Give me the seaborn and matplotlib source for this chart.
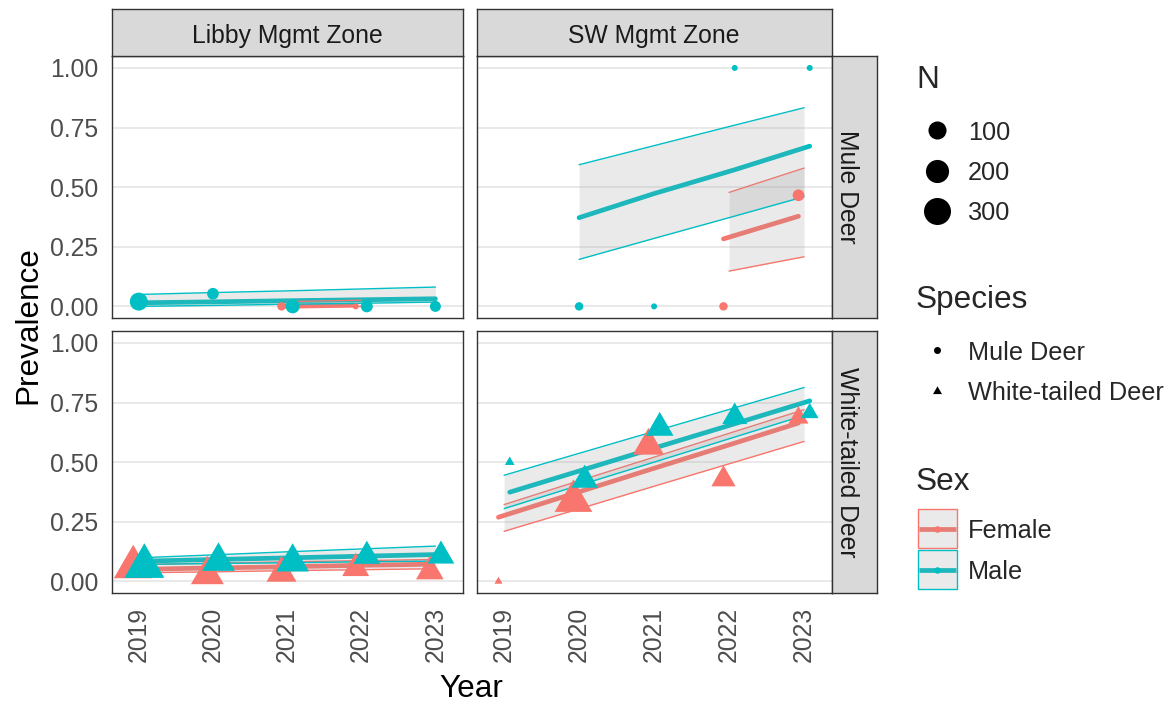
import numpy as np
import pandas as pd
import matplotlib
matplotlib.use("Agg")
import matplotlib.pyplot as plt
from matplotlib.path import Path
from matplotlib.patches import Rectangle
import seaborn as sns

# ---------------- observed prevalence (one row per zone/species/sex/year) ----------------
obs_zone = ["Libby"] * 7 + ["SW"] * 6 + ["Libby"] * 10 + ["SW"] * 10
obs_species = ["Mule Deer"] * 13 + ["White-tailed Deer"] * 20
obs_sex = (["Male"] * 5 + ["Female"] * 2 +
           ["Male"] * 4 + ["Female"] * 2 +
           ["Female", "Male"] * 5 +
           ["Female", "Male"] * 5)
obs_year = ([2019, 2020, 2021, 2022, 2023, 2021, 2022] +
            [2020, 2021, 2022, 2023, 2022, 2023] +
            [2019, 2019, 2020, 2020, 2021, 2021, 2022, 2022, 2023, 2023] +
            [2019, 2019, 2020, 2020, 2021, 2021, 2022, 2022, 2023, 2023])
obs_prev = ([0.020, 0.053, 0.000, 0.000, 0.000, 0.000, 0.000] +
            [0.000, 0.000, 1.000, 1.000, 0.000, 0.466] +
            [0.060, 0.063, 0.028, 0.084, 0.035, 0.081, 0.055, 0.106, 0.042, 0.107] +
            [0.000, 0.500, 0.337, 0.425, 0.569, 0.644, 0.428, 0.690, 0.686, 0.706])
obs_n = ([98, 23, 44, 25, 18, 5, 1] +
         [5, 1, 1, 1, 5, 23] +
         [350, 380, 230, 230, 180, 225, 134, 130, 143, 130] +
         [1, 2, 326, 130, 197, 143, 99, 107, 54, 35])

# ---------------- model fit with confidence band ----------------
fit_zone = ["Libby"] * 5 + ["Libby"] * 2 + ["SW"] * 4 + ["SW"] * 2 + ["Libby"] * 10 + ["SW"] * 10
fit_species = ["Mule Deer"] * 13 + ["White-tailed Deer"] * 20
fit_sex = (["Male"] * 5 + ["Female"] * 2 + ["Male"] * 4 + ["Female"] * 2 +
           ["Male"] * 5 + ["Female"] * 5 + ["Male"] * 5 + ["Female"] * 5)
fit_year = ([2019, 2020, 2021, 2022, 2023] + [2021, 2022] +
            [2020, 2021, 2022, 2023] + [2022, 2023] +
            [2019, 2020, 2021, 2022, 2023] * 4)
fit_mean = ([0.015, 0.019, 0.024, 0.028, 0.032] + [0.000, 0.005] +
            [0.372, 0.473, 0.573, 0.672] + [0.283, 0.378] +
            [0.085, 0.092, 0.099, 0.106, 0.113] + [0.050, 0.056, 0.061, 0.067, 0.072] +
            [0.374, 0.470, 0.566, 0.661, 0.757] + [0.269, 0.368, 0.467, 0.565, 0.664])
fit_lo = ([0.000, 0.004, 0.009, 0.013, 0.018] + [0.000, 0.000] +
          [0.197, 0.285, 0.372, 0.460] + [0.148, 0.208] +
          [0.071, 0.075, 0.078, 0.082, 0.085] + [0.036, 0.040, 0.045, 0.049, 0.053] +
          [0.305, 0.403, 0.500, 0.598, 0.696] + [0.210, 0.304, 0.399, 0.493, 0.587])
fit_hi = ([0.050, 0.058, 0.065, 0.073, 0.081] + [0.020, 0.026] +
          [0.594, 0.674, 0.754, 0.833] + [0.478, 0.580] +
          [0.099, 0.111, 0.124, 0.136, 0.148] + [0.071, 0.076, 0.082, 0.087, 0.092] +
          [0.445, 0.537, 0.629, 0.721, 0.813] + [0.322, 0.422, 0.521, 0.621, 0.720])

zones = ["Libby", "SW"]
zone_titles = ["Libby Mgmt Zone", "SW Mgmt Zone"]
species_levels = ["Mule Deer", "White-tailed Deer"]
sex_levels = ["Female", "Male"]
year_ticks = [2019, 2020, 2021, 2022, 2023]
prev_ticks = [0.0, 0.25, 0.5, 0.75, 1.0]
size_breaks = [100, 200, 300]

palette = {"Female": "#F8766D", "Male": "#00BFC4"}

# ---------------- styling ----------------
sns.set_theme(style="white")
plt.rcParams["font.family"] = ["Liberation Sans", "DejaVu Sans"]

W, H = 1169, 702
PT = 0.72            # points per pixel at 100 dpi
DODGE = 0.075
TICK_FS = 17.8
TITLE_FS = 22.7
LEG_FS = 18.2
BORDER = "#333333"

# equilateral triangle marker centred on its centroid
TRI = Path([(0, 0.5774), (-0.5, -0.2887), (0.5, -0.2887), (0, 0.5774)],
           [Path.MOVETO, Path.LINETO, Path.LINETO, Path.CLOSEPOLY])


def diam_px(n):
    n = np.asarray(n, dtype=float)
    return 1.8 + 4.2 * (1 + 5 * np.sqrt(np.clip(n - 1, 0, None) / 299))


def marker_area(n, species):
    d = diam_px(n)
    if species == "White-tailed Deer":
        side = 1.35 * d
        return float((side / 0.866 * PT) ** 2)
    return float((d * PT) ** 2)


obs = pd.DataFrame(dict(zone=obs_zone, species=obs_species, sex=obs_sex,
                        year=obs_year, prev=obs_prev, n=obs_n))
fits = pd.DataFrame(dict(zone=fit_zone, species=fit_species, sex=fit_sex,
                         year=fit_year, mean=fit_mean, lo=fit_lo, hi=fit_hi))

# dodge sexes apart only where both are present in a year
both = obs.groupby(["zone", "species", "year"])["sex"].nunique()


def dodge(row):
    if both.get((row["zone"], row["species"], row["year"]), 1) > 1:
        return row["year"] + (-DODGE if row["sex"] == "Female" else DODGE)
    return float(row["year"])


obs["x"] = obs.apply(dodge, axis=1)
fits["x"] = fits.apply(dodge, axis=1)
obs["area"] = [marker_area(n, s) for n, s in zip(obs["n"], obs["species"])]
obs["sex"] = pd.Categorical(obs["sex"], sex_levels)
obs = obs.sort_values(["sex", "year"]).reset_index(drop=True)
obs["sex"] = obs["sex"].astype(str)

fig = plt.figure(figsize=(W / 100, H / 100), dpi=100)


def rect(x0, y0, x1, y1):
    return [x0 / W, 1 - y1 / H, (x1 - x0) / W, (y1 - y0) / H]


panel_x = [(111.7, 462.7), (476.7, 831.7)]
panel_y = [(56.0, 318.3), (331.0, 593.3)]

for r, sp in enumerate(species_levels):
    for c, zn in enumerate(zones):
        x0, x1 = panel_x[c]
        y0, y1 = panel_y[r]
        ax = fig.add_axes(rect(x0, y0, x1, y1))
        ax.set_facecolor("white")
        ax.set_xlim(2018.635, 2023.368)
        ax.set_ylim(-0.05, 1.05)
        ax.set_yticks(prev_ticks)
        ax.set_xticks(year_ticks)
        ax.yaxis.grid(True, color="#E3E3E3", lw=1.1)
        ax.xaxis.grid(False)
        ax.set_axisbelow(True)
        for s in ax.spines.values():
            s.set_color(BORDER)
            s.set_linewidth(1.0)
        ax.tick_params(axis="both", colors=BORDER, length=4.6, width=1.0,
                       labelcolor="#4D4D4D", labelsize=TICK_FS, pad=5.3)
        if c == 0:
            ax.set_yticklabels([f"{v:.2f}" for v in prev_ticks])
        else:
            ax.tick_params(axis="y", left=False, labelleft=False)
        if r == 1:
            ax.set_xticklabels([str(y) for y in year_ticks], rotation=90)
        else:
            ax.tick_params(axis="x", bottom=False, labelbottom=False)

        sub_f = fits[(fits.zone == zn) & (fits.species == sp)]
        sub_o = obs[(obs.zone == zn) & (obs.species == sp)]

        # fitted trend lines (drawn through the dodged positions)
        sns.lineplot(data=sub_f, x="x", y="mean", hue="sex", palette=palette,
                     hue_order=[h for h in sex_levels if h in set(sub_f.sex)],
                     estimator=None, sort=True, linewidth=3.4, legend=False,
                     ax=ax, zorder=2)
        # confidence bands with coloured edges
        for sx in sex_levels:
            g = sub_f[sub_f.sex == sx].sort_values("year")
            if g.empty:
                continue
            ax.fill_between(g["year"], g["lo"], g["hi"], color="#999999",
                            alpha=0.2, lw=0, zorder=3)
            ax.plot(g["year"], g["lo"], color=palette[sx], lw=1.0, zorder=3)
            ax.plot(g["year"], g["hi"], color=palette[sx], lw=1.0, zorder=3)

        # observed prevalence, size by sample size
        areas = {v: v for v in sub_o["area"].unique()}
        sns.scatterplot(data=sub_o, x="x", y="prev", hue="sex", palette=palette,
                        style="species", markers={"Mule Deer": "o", "White-tailed Deer": TRI},
                        size="area", sizes=areas, linewidth=0, alpha=1,
                        legend=False, ax=ax, zorder=4)
        ax.set_xlabel("")
        ax.set_ylabel("")

# facet strips
for c, title in enumerate(zone_titles):
    x0, x1 = panel_x[c]
    sax = fig.add_axes(rect(x0, 9.0, x1, 56.0))
    sax.set_facecolor("#D9D9D9")
    sax.set_xticks([]); sax.set_yticks([])
    for s in sax.spines.values():
        s.set_color(BORDER); s.set_linewidth(1.0)
    fig.text((x0 + x1) / 2 / W, 1 - 42.6 / H, title, ha="center", va="baseline",
             fontsize=TICK_FS, color="#1A1A1A")

for r, sp in enumerate(species_levels):
    y0, y1 = panel_y[r]
    sax = fig.add_axes(rect(831.7, y0, 876.7, y1))
    sax.set_facecolor("#D9D9D9")
    sax.set_xticks([]); sax.set_yticks([])
    for s in sax.spines.values():
        s.set_color(BORDER); s.set_linewidth(1.0)
    fig.text(840.0 / W, 1 - (y0 + y1) / 2 / H, sp, ha="center", va="baseline",
             rotation=-90, rotation_mode="anchor", fontsize=TICK_FS, color="#1A1A1A")

# axis titles
fig.text(471.7 / W, 1 - 697.0 / H, "Year", ha="center", va="baseline",
         fontsize=TITLE_FS, color="black")
fig.text(36.5 / W, 1 - 324.7 / H, "Prevalence", ha="center", va="baseline",
         rotation=90, rotation_mode="anchor", fontsize=TITLE_FS, color="black")

# legends, laid out in pixel coordinates
lax = fig.add_axes([0, 0, 1, 1])
lax.set_xlim(0, W)
lax.set_ylim(H, 0)
lax.axis("off")
lax.patch.set_alpha(0)

LX_KEY, LX_TXT, LX_TITLE = 937, 968, 916

lax.text(LX_TITLE, 88, "N", fontsize=TITLE_FS, va="baseline", ha="left")
for yy, nb in zip([130, 171, 211], size_breaks):
    lax.scatter([LX_KEY], [yy], s=marker_area(nb, "Mule Deer"), color="black", lw=0)
    lax.text(LX_TXT, yy, str(nb), fontsize=LEG_FS, va="center_baseline", ha="left")

lax.text(LX_TITLE, 308, "Species", fontsize=TITLE_FS, va="baseline", ha="left")
lax.scatter([LX_KEY], [350], s=(7 * PT) ** 2, color="black", lw=0, marker="o")
lax.scatter([LX_KEY], [391], s=(9 / 0.866 * PT) ** 2, color="black", lw=0, marker=TRI)
for yy, lab in zip([350, 391], species_levels):
    lax.text(LX_TXT, yy, lab, fontsize=LEG_FS, va="center_baseline", ha="left")

lax.text(LX_TITLE, 490, "Sex", fontsize=TITLE_FS, va="baseline", ha="left")
for yy, sx in zip([528.5, 569.5], sex_levels):
    lax.plot([918.5, 955.5], [yy, yy], color=palette[sx], lw=3.4, zorder=2,
             solid_capstyle="butt")
    lax.add_patch(Rectangle((917.5, yy - 19.5), 39, 39, facecolor="#999999",
                            alpha=0.2, lw=0, zorder=3))
    lax.add_patch(Rectangle((917.5, yy - 19.5), 39, 39, facecolor="none",
                            edgecolor=palette[sx], lw=1.0, zorder=3))
    lax.scatter([LX_KEY], [yy], s=(6.5 * PT) ** 2, color=palette[sx], lw=0, zorder=4)
    lax.text(LX_TXT, yy, sx, fontsize=LEG_FS, va="center_baseline", ha="left")

fig.savefig("out.png", dpi=100, facecolor="white")
